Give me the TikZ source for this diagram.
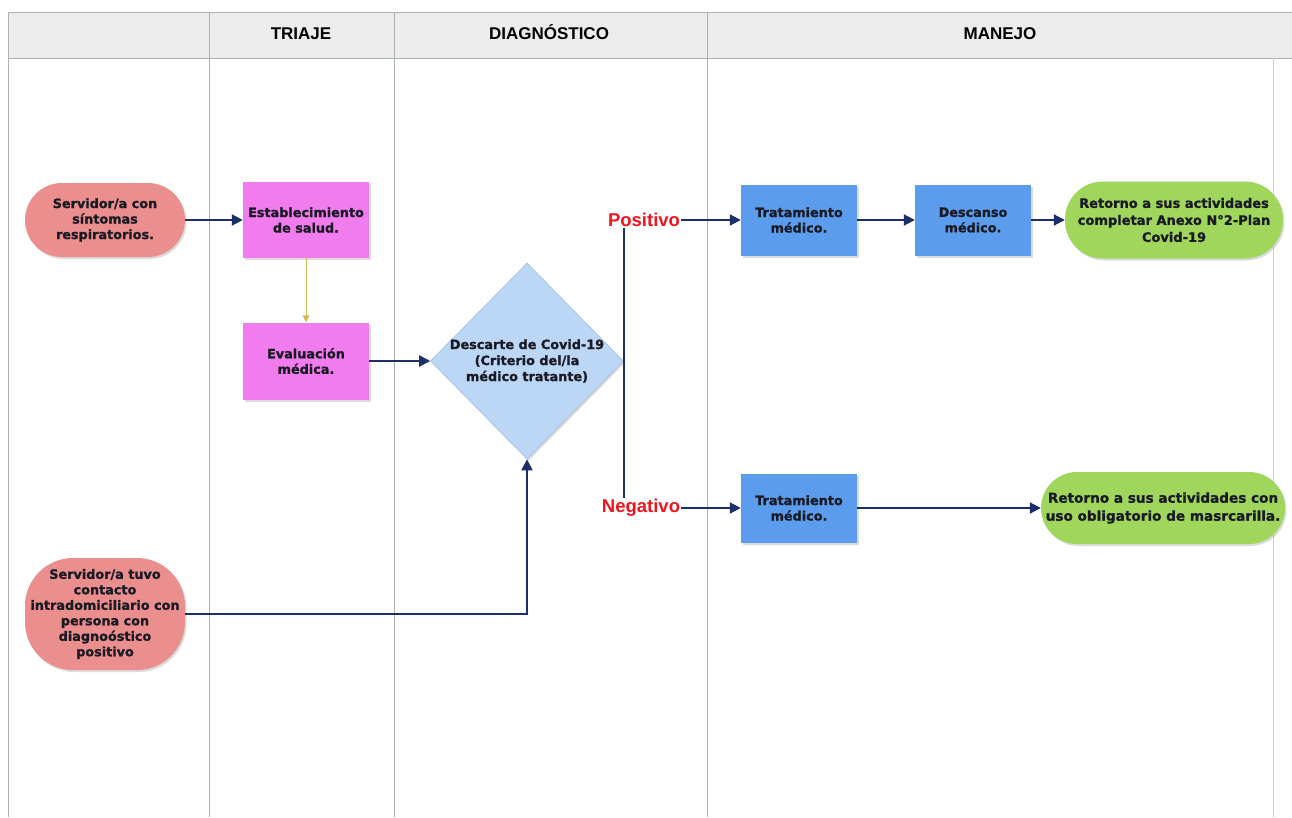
\documentclass[tikz,border=0pt]{standalone}
\usepackage{fontspec}
\setmainfont{DejaVu Sans}
\newfontfamily\heavyfont{DejaVu Sans Bold}[FakeBold=1.2]
\newfontfamily\hdrfont{Liberation Sans}
\usetikzlibrary{shapes.geometric,arrows.meta,shadows}
\definecolor{hdrfill}{HTML}{ECECEC}
\definecolor{laneline}{HTML}{A9B4B2}
\definecolor{salmon}{HTML}{EB8E8E}
\definecolor{pinkbox}{HTML}{F07CEE}
\definecolor{dblue}{HTML}{BCD6F5}
\definecolor{dblueline}{HTML}{A2BFE3}
\definecolor{boxblue}{HTML}{5C9CEC}
\definecolor{lgreen}{HTML}{9FD65B}
\definecolor{navy}{HTML}{1B2F6B}
\definecolor{mustard}{HTML}{D6BC55}
\definecolor{lblred}{HTML}{F0141E}
\definecolor{txt}{HTML}{1A1A24}
\begin{document}
\begin{tikzpicture}[x=1pt,y=-1pt,
  lane/.style={draw=laneline,line width=1pt},
  shade/.style={drop shadow={opacity=0.28,shadow xshift=1.5pt,shadow yshift=-2pt}},
  ntext/.style={font=\heavyfont\fontsize{12.8}{15.5}\selectfont,text=txt,align=center},
  pill/.style={shade,rectangle,inner sep=0pt},
  sqbox/.style={shade,rectangle,inner sep=0pt,ntext},
  hdr/.style={font=\hdrfont\bfseries\fontsize{17}{20}\selectfont,text=black,anchor=base},
  decision/.style={font=\hdrfont\bfseries\fontsize{18.5}{20}\selectfont,text=lblred,inner sep=1pt},
  flow/.style={draw=navy,line width=2pt,-{Triangle[length=11pt,width=11pt]}},
  plain/.style={draw=navy,line width=2pt}
]
\useasboundingbox (0,0) rectangle (1292,817);
\fill[white] (0,0) rectangle (1292,817);
% header band
\fill[hdrfill] (8,12) rectangle (1292,58);
\draw[lane] (8,12) -- (1292,12);
\draw[lane] (8,58) -- (1292,58);
\draw[lane] (8,12) -- (8,817);
\draw[lane] (209,12) -- (209,817);
\draw[lane] (394,12) -- (394,817);
\draw[lane] (707,12) -- (707,817);
\draw[draw=laneline!60,line width=0.8pt] (1273,58) -- (1273,817);
\node[hdr] (h1) at (301,39) {TRIAJE};
\node[hdr] (h2) at (549,39) {DIAGNÓSTICO};
\node[hdr] (h3) at (1000,39) {MANEJO};

% nodes
\node[pill,fill=salmon,minimum width=160pt,minimum height=74pt,rounded corners=37pt,ntext] (s1) at (105,220) {Servidor/a con\\síntomas\\respiratorios.};
\node[sqbox,fill=pinkbox,minimum width=126pt,minimum height=76pt] (est) at (306,220) {Establecimiento\\de salud.};
\node[sqbox,fill=pinkbox,minimum width=126pt,minimum height=77pt] (eval) at (306,361) {Evaluación\\médica.};
\node[shade,diamond,draw=dblueline,line width=0.6pt,fill=dblue,minimum width=193pt,minimum height=196pt,inner sep=0pt] (dia) at (527,361) {};
\node[ntext,font=\heavyfont\fontsize{12.8}{16}\selectfont] (dlab) at (527,361) {Descarte de Covid-19\\(Criterio del/la\\médico tratante)};
\node[decision] (pos) at (644,220) {Positivo};
\node[decision] (neg) at (641,508) {Negativo};
\node[sqbox,fill=boxblue,minimum width=116pt,minimum height=71pt] (t1) at (799,220) {Tratamiento\\médico.};
\node[sqbox,fill=boxblue,minimum width=116pt,minimum height=71pt] (desc) at (973,220) {Descanso\\médico.};
\node[pill,fill=lgreen,minimum width=218pt,minimum height=77pt,rounded corners=38pt,ntext,font=\heavyfont\fontsize{13}{17}\selectfont] (r1) at (1174,220) {Retorno a sus actividades\\completar Anexo N°2-Plan\\Covid-19};
\node[sqbox,fill=boxblue,minimum width=116pt,minimum height=69pt] (t2) at (799,508) {Tratamiento\\médico.};
\node[pill,fill=lgreen,minimum width=244pt,minimum height=72pt,rounded corners=36pt,ntext,font=\heavyfont\fontsize{13.6}{18}\selectfont] (r2) at (1163,508) {Retorno a sus actividades con\\uso obligatorio de masrcarilla.};
\node[pill,fill=salmon,minimum width=160pt,minimum height=112pt,rounded corners=48pt,ntext] (c1) at (105,614) {Servidor/a tuvo\\contacto\\intradomiciliario con\\persona con\\diagnoóstico\\positivo};

% connectors
\draw[flow] (s1.east) -- (est.west);
\draw[draw=mustard,line width=1pt,-{Triangle[length=7pt,width=7pt]}] (est.south) -- (eval.north);
\draw[flow] (eval.east) -- (dia.west);
\draw[plain] (pos.south -| dia.east) -- (neg.north -| dia.east);
\draw[flow] (pos.east) -- (t1.west);
\draw[flow] (t1.east) -- (desc.west);
\draw[flow] (desc.east) -- (r1.west);
\draw[flow] (neg.east) -- (t2.west);
\draw[flow] (t2.east) -- (r2.west);
\draw[flow] (c1.east) -| (dia.south);
\end{tikzpicture}
\end{document}
